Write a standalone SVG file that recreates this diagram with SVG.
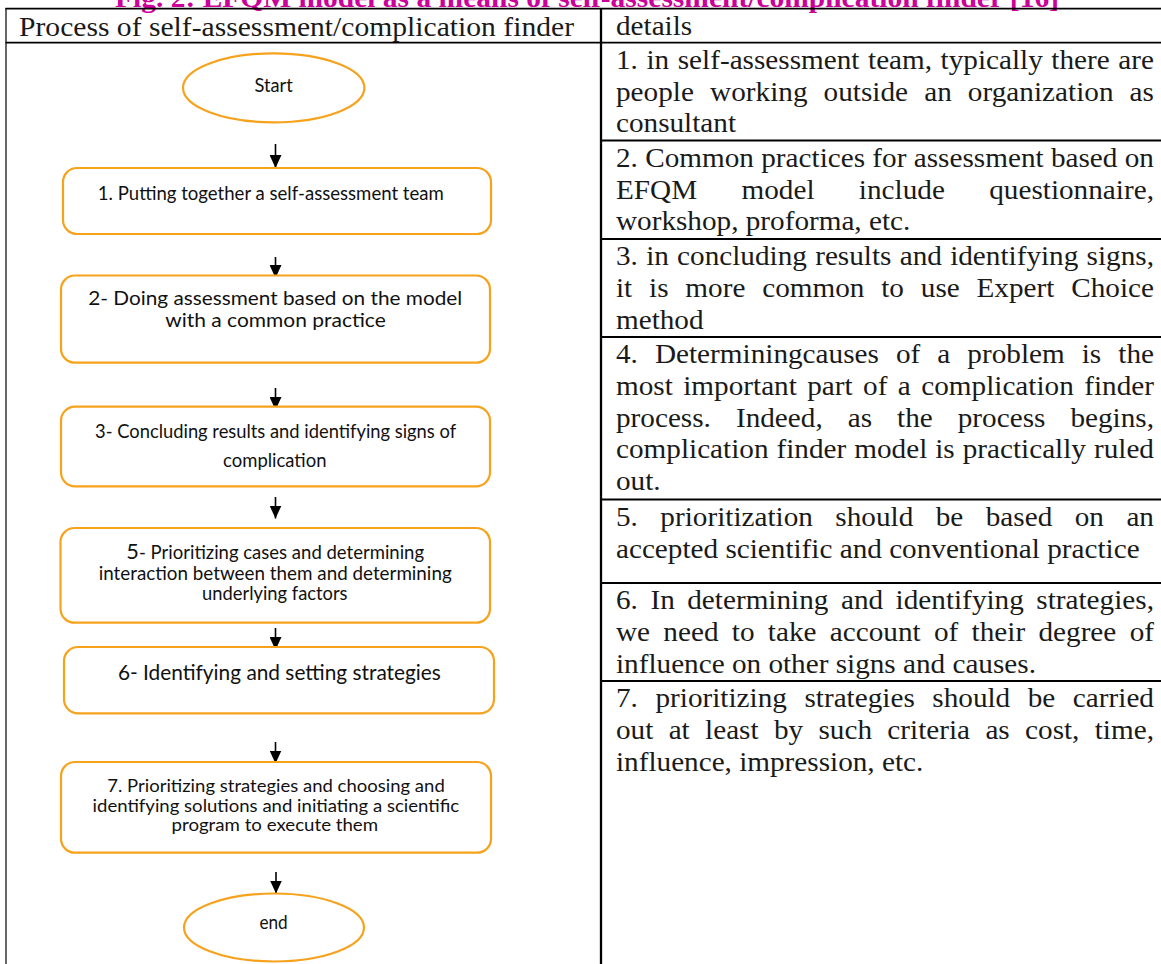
<svg xmlns="http://www.w3.org/2000/svg" width="1161" height="964" viewBox="0 0 1161 964">
<style>
.bg{fill:#fff}
.box{fill:#fff;stroke:#F7A21C;stroke-width:2.2}
.lbl{font-family:Lato,"Liberation Sans",sans-serif;fill:#111;text-anchor:middle}
.det{font-family:"Liberation Serif",serif;font-size:27px;fill:#1a1a1a}
.hdr{font-family:"Liberation Serif",serif;font-size:27px;fill:#1a1a1a}
.title{font-family:"Liberation Serif",serif;font-size:27px;font-weight:bold;fill:#CC0099}
.grid{stroke:#000;stroke-width:1.8;fill:none}
.conn{stroke:#000;stroke-width:1.6;fill:none;marker-end:url(#ah)}
</style>
<defs>
<marker id="ah" viewBox="0 0 13 12" refX="13" refY="6" markerWidth="13" markerHeight="12" markerUnits="userSpaceOnUse" orient="auto">
<path d="M0,0 L13,6 L0,12 z" fill="#000"/>
</marker>
</defs>
<rect class="bg" x="0" y="0" width="1161" height="964"/>

<text class="title" x="587" y="7" text-anchor="middle" textLength="944" lengthAdjust="spacingAndGlyphs">Fig. 2: EFQM model as a means of self-assessment/complication finder [16]</text>

<g id="table">
<line class="grid" x1="5.5" y1="8.7" x2="1161" y2="8.7"/>
<line class="grid" x1="5.5" y1="42.7" x2="1161" y2="42.7"/>
<line class="grid" x1="6" y1="8" x2="6" y2="964" style="stroke-width:1.2"/>
<line class="grid" x1="601" y1="8" x2="601" y2="964" style="stroke-width:2.3"/>
<line class="grid" x1="601" y1="140.5" x2="1161" y2="140.5"/>
<line class="grid" x1="601" y1="239" x2="1161" y2="239"/>
<line class="grid" x1="601" y1="337" x2="1161" y2="337"/>
<line class="grid" x1="601" y1="499.5" x2="1161" y2="499.5"/>
<line class="grid" x1="601" y1="583" x2="1161" y2="583"/>
<line class="grid" x1="601" y1="681" x2="1161" y2="681"/>
<text class="hdr" x="19" y="35.5" textLength="555" lengthAdjust="spacingAndGlyphs">Process of self-assessment/complication finder</text>
</g>

<g id="connectors">
<line class="conn" x1="275.5" y1="144" x2="275.5" y2="168"/>
<line class="conn" x1="275.5" y1="257" x2="275.5" y2="278"/>
<line class="conn" x1="275.5" y1="388" x2="275.5" y2="410"/>
<line class="conn" x1="275.5" y1="497" x2="275.5" y2="518.5"/>
<line class="conn" x1="275.5" y1="628" x2="275.5" y2="650"/>
<line class="conn" x1="275.5" y1="742" x2="275.5" y2="763.5"/>
<line class="conn" x1="276" y1="872" x2="276" y2="893.5"/>
</g>

<g id="start">
<ellipse class="box" cx="273.7" cy="87.8" rx="90.7" ry="34.5"/>
<text class="lbl" x="273.6" y="91.7" font-size="18.5" textLength="38.3" lengthAdjust="spacingAndGlyphs">Start</text>
</g>

<g id="step1">
<rect class="box" x="63" y="168" width="428" height="66" rx="14"/>
<text class="lbl" x="270.8" y="200" font-size="18.5" textLength="346" lengthAdjust="spacingAndGlyphs">1. Putting together a self-assessment team</text>
</g>

<g id="step2">
<rect class="box" x="61" y="275.5" width="429" height="87.2" rx="14"/>
<text class="lbl" x="275.2" y="305" font-size="20" textLength="374" lengthAdjust="spacingAndGlyphs">2- Doing assessment based on the model</text>
<text class="lbl" x="275.5" y="326.7" font-size="20" textLength="220.5" lengthAdjust="spacingAndGlyphs">with a common practice</text>
</g>

<g id="step3">
<rect class="box" x="61" y="406.7" width="429" height="79.6" rx="14"/>
<text class="lbl" x="275.6" y="438.3" font-size="18.5" textLength="361" lengthAdjust="spacingAndGlyphs">3- Concluding results and identifying signs of</text>
<text class="lbl" x="274.8" y="466.7" font-size="18.5" textLength="103.4" lengthAdjust="spacingAndGlyphs">complication</text>
</g>

<g id="step5">
<rect class="box" x="60.5" y="528" width="429.5" height="94.7" rx="14"/>
<text class="lbl" x="275.2" y="558.5" font-size="18.3" textLength="297.7" lengthAdjust="spacingAndGlyphs"><tspan font-size="21.5">5</tspan>- Prioritizing cases and determining</text>
<text class="lbl" x="275.2" y="579.5" font-size="18.3" textLength="353" lengthAdjust="spacingAndGlyphs">interaction between them and determining</text>
<text class="lbl" x="274.8" y="600" font-size="18.3" textLength="145.5" lengthAdjust="spacingAndGlyphs">underlying factors</text>
</g>

<g id="step6">
<rect class="box" x="64" y="647" width="430" height="66.3" rx="14"/>
<text class="lbl" x="279.4" y="680" font-size="20.5" textLength="323" lengthAdjust="spacingAndGlyphs">6- Identifying and setting strategies</text>
</g>

<g id="step7">
<rect class="box" x="61" y="762" width="430" height="90.7" rx="14"/>
<text class="lbl" x="276" y="791.5" font-size="17.8" textLength="337.5" lengthAdjust="spacingAndGlyphs">7. Prioritizing strategies and choosing and</text>
<text class="lbl" x="275.9" y="811.5" font-size="17.8" textLength="366.6" lengthAdjust="spacingAndGlyphs">identifying solutions and initiating a scientific</text>
<text class="lbl" x="274.8" y="831" font-size="17.8" textLength="206.6" lengthAdjust="spacingAndGlyphs">program to execute them</text>
</g>

<g id="end">
<ellipse class="box" cx="274" cy="927.5" rx="90" ry="34"/>
<text class="lbl" x="273.6" y="929.3" font-size="18.5" textLength="28.3" lengthAdjust="spacingAndGlyphs">end</text>
</g>

<g id="details" transform="translate(616,0) scale(1.082,1)">
<text class="det" x="0" y="35.5">details</text>
<g id="detail1">
<text class="det" x="0" y="69" word-spacing="1.13" textLength="497.2" lengthAdjust="spacing">1. in self-assessment team, typically there are</text>
<text class="det" x="0" y="100.6" word-spacing="8.1" textLength="497.2" lengthAdjust="spacing">people working outside an organization as</text>
<text class="det" x="0" y="132.2">consultant</text>
</g>
<g id="detail2">
<text class="det" x="0" y="167" textLength="497.2" lengthAdjust="spacing">2. Common practices for assessment based on</text>
<text class="det" x="0" y="198.6" word-spacing="34.2" textLength="497.2" lengthAdjust="spacing">EFQM model include questionnaire,</text>
<text class="det" x="0" y="230.2">workshop, proforma, etc.</text>
</g>
<g id="detail3">
<text class="det" x="0" y="265.5" word-spacing="0.87" textLength="497.2" lengthAdjust="spacing">3. in concluding results and identifying signs,</text>
<text class="det" x="0" y="297.1" word-spacing="8.79" textLength="497.2" lengthAdjust="spacing">it is more common to use Expert Choice</text>
<text class="det" x="0" y="328.7">method</text>
</g>
<g id="detail4">
<text class="det" x="0" y="363.5" word-spacing="9" textLength="497.2" lengthAdjust="spacing">4. Determiningcauses of a problem is the</text>
<text class="det" x="0" y="395.1" word-spacing="2.87" textLength="497.2" lengthAdjust="spacing">most important part of a complication finder</text>
<text class="det" x="0" y="426.7" word-spacing="16.36" textLength="497.2" lengthAdjust="spacing">process. Indeed, as the process begins,</text>
<text class="det" x="0" y="458.3" word-spacing="0.6" textLength="497.2" lengthAdjust="spacing">complication finder model is practically ruled</text>
<text class="det" x="0" y="489.9">out.</text>
</g>
<g id="detail5">
<text class="det" x="0" y="526" word-spacing="14" textLength="497.2" lengthAdjust="spacing">5. prioritization should be based on an</text>
<text class="det" x="0" y="557.6">accepted scientific and conventional practice</text>
</g>
<g id="detail6">
<text class="det" x="0" y="609.5" word-spacing="4.8" textLength="497.2" lengthAdjust="spacing">6. In determining and identifying strategies,</text>
<text class="det" x="0" y="641.1" word-spacing="5.55" textLength="497.2" lengthAdjust="spacing">we need to take account of their degree of</text>
<text class="det" x="0" y="672.7">influence on other signs and causes.</text>
</g>
<g id="detail7">
<text class="det" x="0" y="707.5" word-spacing="9.46" textLength="497.2" lengthAdjust="spacing">7. prioritizing strategies should be carried</text>
<text class="det" x="0" y="739.1" word-spacing="7.41" textLength="497.2" lengthAdjust="spacing">out at least by such criteria as cost, time,</text>
<text class="det" x="0" y="770.7">influence, impression, etc.</text>
</g>
</g>
</svg>
